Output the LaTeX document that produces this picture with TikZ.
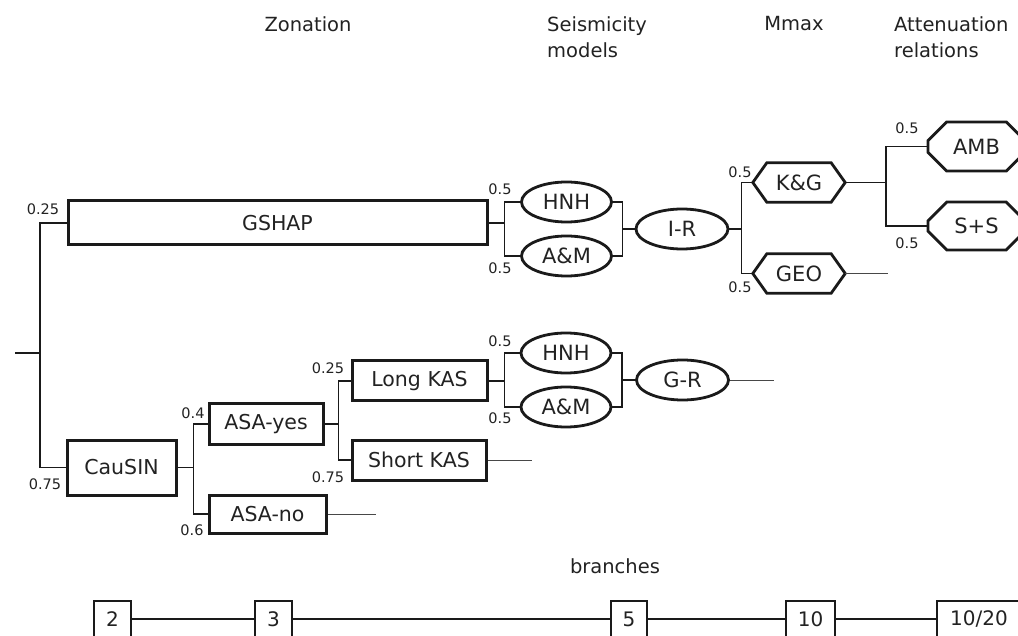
\documentclass[tikz,border=0pt]{standalone}
\usepackage{fontspec}
\setmainfont{DejaVu Sans}
\usetikzlibrary{shapes.geometric, shapes.misc}
\definecolor{treeInk}{HTML}{1A1A1A}
\definecolor{treeText}{HTML}{222222}
\tikzset{
  zonebox/.style={draw=treeInk, line width=3pt, inner sep=0pt, text=treeText,
    font=\fontsize{20.5}{24}\selectfont},
  modeloval/.style={ellipse, draw=treeInk, line width=2.8pt, inner sep=0pt,
    minimum width=90pt, minimum height=40pt, text=treeText, font=\fontsize{21}{24}\selectfont},
  chambox/.style={chamfered rectangle, draw=treeInk, line width=2.8pt, inner sep=0pt,
    text=treeText, font=\fontsize{21}{24}\selectfont},
  hexbox/.style={inner sep=0pt, minimum width=92pt, minimum height=39pt,
    text=treeText, font=\fontsize{21}{24}\selectfont},
  hexline/.style={draw=treeInk, line width=2.8pt, line join=miter},
  branchbox/.style={draw=treeInk, line width=1.4pt, inner sep=0pt, minimum height=36pt,
    text=treeText, font=\fontsize{20}{24}\selectfont},
  headtext/.style={inner sep=0pt, text=treeText, font=\fontsize{19.5}{26}\selectfont},
  prob/.style={inner sep=0pt, text=treeText, font=\fontsize{14.5}{16}\selectfont},
  link/.style={draw=treeInk, line width=1.5pt},
  stub/.style={draw=treeInk!80, line width=0.9pt},
  branchline/.style={draw=treeInk, line width=2.2pt}
}
\begin{document}
\begin{tikzpicture}[x=1pt, y=-1pt]
\useasboundingbox (0,0) rectangle (1018,636);
\node[headtext] (hzone) at (308,24) {Zonation};
\node[headtext, align=left, anchor=west] (hseis) at (547,37) {Seismicity\\models};
\node[headtext] (hmmax) at (794,24) {Mmax};
\node[headtext, align=left, anchor=west] (hatt) at (894,37) {Attenuation\\relations};
\node[headtext] (hbranch) at (615,566) {branches};
\node[zonebox, minimum width=419pt, minimum height=44pt] (gshap) at (277.5,223) {GSHAP};
\node[zonebox, minimum width=109pt, minimum height=55pt] (causin) at (121.5,467.5) {CauSIN};
\node[zonebox, minimum width=114pt, minimum height=40pt] (asayes) at (266,424) {ASA-yes};
\node[zonebox, minimum width=117pt, minimum height=38pt] (asano) at (267.5,514) {ASA-no};
\node[zonebox, minimum width=135pt, minimum height=40pt] (longkas) at (419.5,381) {Long KAS};
\node[zonebox, minimum width=134pt, minimum height=40pt] (shortkas) at (419,460) {Short KAS};
\node[modeloval] (hnhA) at (566.5,202) {HNH};
\node[modeloval] (aemA) at (566.5,256) {A\&M};
\node[modeloval, minimum width=92pt] (ir) at (682,229) {I-R};
\node[modeloval] (hnhB) at (566,353) {HNH};
\node[modeloval] (aemB) at (566,407) {A\&M};
\node[modeloval, minimum width=92pt] (gr) at (682.5,380) {G-R};
\node[hexbox] (kg) at (799,182.5) {K\&G};
\node[hexbox] (geo) at (799,273.5) {GEO};
\foreach \hx in {kg, geo}
  \draw[hexline] (\hx.west) -- ([xshift=14pt]\hx.north west) -- ([xshift=-14pt]\hx.north east)
    -- (\hx.east) -- ([xshift=-14pt]\hx.south east) -- ([xshift=14pt]\hx.south west) -- cycle;
\node[chambox, minimum width=97pt, minimum height=49pt, chamfered rectangle xsep=10pt,
  chamfered rectangle ysep=11pt] (amb) at (976.5,146.5) {AMB};
\node[chambox, minimum width=97pt, minimum height=48pt, chamfered rectangle xsep=10pt,
  chamfered rectangle ysep=11pt] (ss) at (976.5,226) {S+S};
\node[branchbox, minimum width=37pt] (b2) at (112.5,619) {2};
\node[branchbox, minimum width=37pt] (b3) at (273.5,619) {3};
\node[branchbox, minimum width=36pt] (b5) at (629,619) {5};
\node[branchbox, minimum width=49pt] (b10) at (810.5,619) {10};
\node[branchbox, minimum width=84pt] (b1020) at (979,619) {10/20};
\coordinate (root) at (40,353);
\draw[link] (root) -- ++(-25,0);
\draw[link] (gshap.west) -| (root);
\draw[link] (causin.west) -| (root);
\foreach \tip in {hnhA, aemA} {
  \draw[link] (gshap.east) -- ++(16,0) |- (\tip.west);
  \draw[link] (ir.west) -- ++(-12,0) |- (\tip.east);
}
\foreach \tip in {hnhB, aemB} {
  \draw[link] (longkas.east) -- ++(16,0) |- (\tip.west);
  \draw[link] (gr.west) -- ++(-13,0) |- (\tip.east);
}
\foreach \tip in {kg, geo} \draw[link] (ir.east) -- ++(12,0) |- (\tip.west);
\foreach \tip in {amb, ss} \draw[link] (kg.east) -- ++(41,0) |- (\tip.west);
\foreach \tip in {asayes, asano} \draw[link] (causin.east) -- ++(16,0) |- (\tip.west);
\foreach \tip in {longkas, shortkas} \draw[link] (asayes.east) -- ++(14,0) |- (\tip.west);
\draw[stub] (geo.east) -- ++(43,0);
\draw[stub] (gr.east) -- ++(44,0);
\draw[stub] (shortkas.east) -- ++(44,0);
\draw[stub] (asano.east) -- ++(48,0);
\draw[branchline] (b2) -- (b3) -- (b5) -- (b10) -- (b1020);
\node[prob] (pgshap) at (43,209) {0.25};
\node[prob] (pcausin) at (45,484) {0.75};
\node[prob] (phnhA) at (500,189) {0.5};
\node[prob] (paemA) at (500,268) {0.5};
\node[prob] (pkg) at (740,172) {0.5};
\node[prob] (pgeo) at (740,287) {0.5};
\node[prob] (pamb) at (907,128) {0.5};
\node[prob] (pss) at (907,243) {0.5};
\node[prob] (phnhB) at (500,341) {0.5};
\node[prob] (paemB) at (500,418) {0.5};
\node[prob] (pasayes) at (193,413) {0.4};
\node[prob] (pasano) at (192,530) {0.6};
\node[prob] (plong) at (328,368) {0.25};
\node[prob] (pshort) at (328,477) {0.75};
\end{tikzpicture}
\end{document}
